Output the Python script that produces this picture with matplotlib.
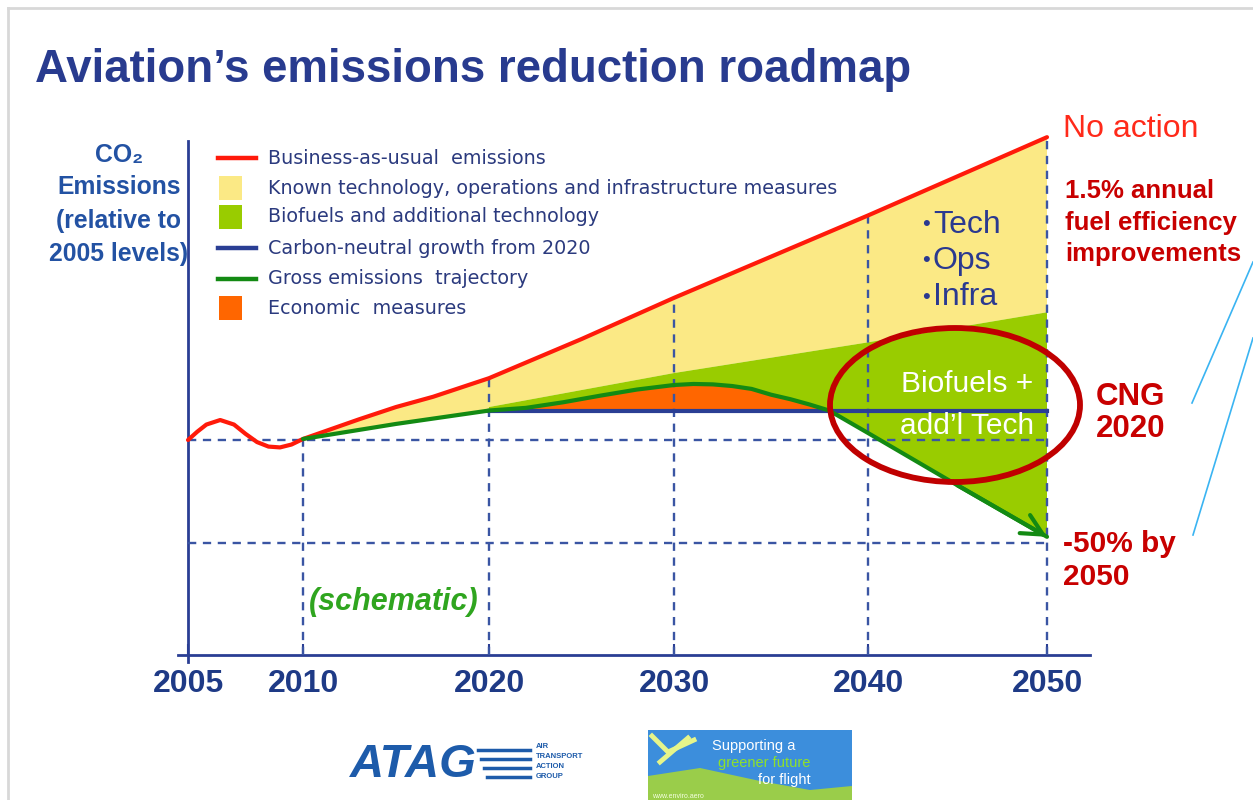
import numpy as np
import matplotlib
matplotlib.use("Agg")
import matplotlib.pyplot as plt
from matplotlib.lines import Line2D
from matplotlib.patches import Rectangle, Ellipse, Polygon
from matplotlib import font_manager

# ---------------- data (schematic, index 2005 = 100) ----------------
tick_years = [2005, 2010, 2020, 2030, 2040, 2050]
tick_labels = ["2005", "2010", "2020", "2030", "2040", "2050"]

bau_years = [2005, 2005.4, 2005.8, 2006.4, 2007, 2007.5, 2008, 2008.5, 2009, 2009.5,
             2010, 2013, 2015, 2017, 2020, 2025, 2030, 2035, 2040, 2045, 2050]
bau_values = [100, 104, 107.5, 109.7, 107.5, 103, 99, 96.8, 96.4, 97.8,
              100.5, 110, 116, 121, 130, 149, 169, 189, 209, 228, 247]

gross_years = [2010, 2015, 2020, 2022, 2024, 2026, 2028, 2030, 2031, 2032, 2033,
               2034, 2035, 2036, 2037, 2038, 2040, 2045, 2050]
gross_values = [100.5, 107.8, 114.3, 115.6, 118.3, 121.5, 124.5, 126.7, 127.2, 127.0,
                126.2, 124.8, 122.0, 119.8, 117.2, 114.3, 103.4, 78, 53]

known_tech_lower_years = [2020, 2030, 2040, 2050]     # top of biofuels wedge
known_tech_lower_values = [116, 132.5, 147.4, 162]

cng_years = [2020, 2050]
cng_level = 114.3
baseline_level = 100
target_level = 50

legend_labels = ["Business-as-usual  emissions",
                 "Known technology, operations and infrastructure measures",
                 "Biofuels and additional technology",
                 "Carbon-neutral growth from 2020",
                 "Gross emissions  trajectory",
                 "Economic  measures"]

# ---------------- style ----------------
RED = "#FF1A0A"
YELLOW = "#FBE985"
LGREEN = "#99CC00"
ORANGE = "#FF6600"
NAVY = "#2A3E94"
DGREEN = "#138A13"
DASH = "#3A55A3"
DARKRED = "#C80000"

W, H = 1253, 800
names = {f.name for f in font_manager.fontManager.ttflist}
NARROW = "Liberation Sans Narrow" if "Liberation Sans Narrow" in names else "Liberation Sans"

def fx(px):
    return px / W

def fy(py):
    return 1 - py / H

fig = plt.figure(figsize=(W / 100, H / 100), dpi=100)
fig.patch.set_facecolor("white")

# axes occupying pixel box x 170..1100, y 120..670
AX_L, AX_R, AX_T, AX_B = 170, 1100, 120, 670
ax = fig.add_axes([fx(AX_L), fy(AX_B), (AX_R - AX_L) / W, (AX_B - AX_T) / H])

# schematic (piecewise linear) time axis
YR = np.array([1990, 2005, 2010, 2020, 2030, 2040, 2050, 2100], dtype=float)
PX = np.array([188 - 15 * 23, 188, 303, 489, 674, 868, 1047, 1047 + 50 * 17.9])

def fwd(x):
    return np.interp(x, YR, PX)

def inv(p):
    return np.interp(p, PX, YR)

ax.set_xscale("function", functions=(fwd, inv))
ax.set_xlim(inv(AX_L), inv(AX_R))
PXU = 2.06  # px per index unit
ax.set_ylim(100 - (AX_B - 440) / PXU, 100 + (440 - AX_T) / PXU)

# fills
yel_x = bau_years[10:] + known_tech_lower_years[::-1] + gross_years[:3][::-1]
yel_y = bau_values[10:] + known_tech_lower_values[::-1] + gross_values[:3][::-1]
ax.fill(yel_x, yel_y, color=YELLOW, lw=0, zorder=1)

g_start = gross_years.index(2020)
grn_x = known_tech_lower_years + gross_years[g_start:][::-1]
grn_y = known_tech_lower_values + gross_values[g_start:][::-1]
ax.fill(grn_x, grn_y, color=LGREEN, lw=0, zorder=2)

gy = np.array(gross_years[g_start:], dtype=float)
gv = np.array(gross_values[g_start:], dtype=float)
ax.fill_between(gy, gv, cng_level, where=gv >= cng_level - 1e-9, interpolate=True,
                color=ORANGE, lw=0, zorder=3)

# dashed guide lines
dash_kw = dict(color=DASH, lw=1.7, linestyle=(0, (3.5, 2.8)), zorder=4)
ybot = 100 - (655 - 440) / PXU
for yr in tick_years[1:]:
    top = baseline_level if yr == 2010 else bau_values[bau_years.index(yr)]
    ax.plot([yr, yr], [ybot, top], **dash_kw)
for lvl in (baseline_level, target_level):
    ax.plot([tick_years[0], tick_years[-1]], [lvl, lvl], **dash_kw)

# lines
ax.plot(bau_years, bau_values, color=RED, lw=3.0, zorder=6, solid_capstyle="round")
ax.plot(cng_years, [cng_level, cng_level], color=NAVY, lw=3.0, zorder=7)
ax.plot(gross_years, gross_values, color=DGREEN, lw=3.0, zorder=8, solid_capstyle="round")
ax.annotate("", xy=(gross_years[-1], gross_values[-1]),
            xytext=(gross_years[-2], gross_values[-2]),
            arrowprops=dict(arrowstyle="->,head_length=1.5,head_width=0.75",
                            color=DGREEN, lw=3.0, shrinkA=0, shrinkB=0), zorder=9)

# axes styling
for s in ("top", "right"):
    ax.spines[s].set_visible(False)
ax.spines["left"].set_position(("data", 2005))
ax.spines["bottom"].set_position(("data", ybot))
ax.spines["left"].set_bounds(100 - (662 - 440) / PXU, 100 + (440 - 141) / PXU)
ax.spines["bottom"].set_bounds(inv(178), inv(1090))
for s in ("left", "bottom"):
    ax.spines[s].set_color(NAVY)
    ax.spines[s].set_linewidth(2.0)
ax.set_yticks([])
ax.set_xticks(tick_years)
ax.set_xticklabels(tick_labels, fontsize=23, fontweight="bold", color="#1E3A86",
                   family=["Liberation Sans"])
ax.tick_params(axis="x", direction="in", length=8, width=1.5, color=NAVY, pad=10)
ax.get_xticklabels()[0].set_x(2005.2)
ax.set_facecolor("none")

# title
title = fig.text(fx(35), fy(70), "Aviation’s emissions reduction roadmap",
                 fontsize=34, fontweight="bold", color="#283B8F", family=[NARROW, "DejaVu Sans"],
                 ha="left", va="center")
r = fig.canvas.get_renderer()
tw = title.get_window_extent(r).width
title.set_fontsize(34 * 877 / tw)

# y label
ylab_lines = ["CO₂", "Emissions", "(relative to", "2005 levels)"]
for t, y in zip(ylab_lines, [155, 187, 221, 254]):
    fig.text(fx(119), fy(y), t, fontsize=17.8, fontweight="bold", color="#2352A3",
             family=["Liberation Sans", "DejaVu Sans"], ha="center", va="center")

# legend (manual)
rows = [158, 188, 217, 248, 279, 308]
kinds = [("line", RED), ("box", YELLOW), ("box", LGREEN), ("line", NAVY),
         ("line", DGREEN), ("box", ORANGE)]
for (kind, col), y, lab in zip(kinds, rows, legend_labels):
    if kind == "line":
        fig.add_artist(Line2D([fx(218), fx(256)], [fy(y), fy(y)], color=col, lw=3.2))
    else:
        fig.add_artist(Rectangle((fx(219), fy(y + 11.5)), 23 / W, 23 / H, color=col, lw=0))
    fig.text(fx(268), fy(y), lab, fontsize=13.8, color="#2B3A7E",
             family=["DejaVu Sans"], ha="left", va="center")

# annotations
fig.text(fx(1063), fy(129), "No action", fontsize=23, color="#FF2A1A",
         family=["Liberation Sans"], ha="left", va="center")
for t, y in zip(["1.5% annual", "fuel efficiency", "improvements"], [191, 223, 254]):
    fig.text(fx(1065), fy(y), t, fontsize=18.5, fontweight="bold", color=DARKRED,
             family=["Liberation Sans"], ha="left", va="center")
for t, y in zip(["CNG", "2020"], [397, 429]):
    fig.text(fx(1096), fy(y), t, fontsize=22.5, fontweight="bold", color=DARKRED,
             family=["Liberation Sans"], ha="left", va="center")
for t, y in zip(["-50% by", "2050"], [544, 577]):
    fig.text(fx(1063), fy(y), t, fontsize=21.5, fontweight="bold", color=DARKRED,
             family=["Liberation Sans"], ha="left", va="center")
for t, y in zip(["Tech", "Ops", "Infra"], [225, 261, 297]):
    fig.text(fx(922), fy(y), "•", fontsize=16, color="#2A3990",
             family=["Liberation Sans", "DejaVu Sans"], ha="left", va="center")
    fig.text(fx(933), fy(y), t, fontsize=23, color="#2A3990",
             family=["Liberation Sans", "DejaVu Sans"], ha="left", va="center")
for t, y in zip(["Biofuels +", "add’l Tech"], [384, 426]):
    fig.text(fx(967), fy(y), t, fontsize=21.5, color="white",
             family=["Liberation Sans"], ha="center", va="center", zorder=20)
fig.text(fx(394), fy(602), "(schematic)", fontsize=22, fontweight="bold", style="italic",
         color="#2FA51F", family=["Liberation Sans"], ha="center", va="center")

# ellipse highlight
fig.add_artist(Ellipse((fx(955), fy(405)), 250 / W, 154 / H, fill=False,
                       edgecolor="#C00000", lw=4.2, zorder=30))

# light blue pointer lines
for (x0, y0, x1, y1) in [(1192, 403, 1253, 262), (1193, 535, 1253, 338)]:
    fig.add_artist(Line2D([fx(x0), fx(x1)], [fy(y0), fy(y1)], color="#3AB4F2", lw=1.2))

# slide border
fig.add_artist(Line2D([fx(8), fx(1253)], [fy(8), fy(8)], color="#D8D8D8", lw=2))
fig.add_artist(Line2D([fx(8), fx(8)], [fy(8), fy(800)], color="#D8D8D8", lw=2))

# ---- logos (approximate) ----
fig.text(fx(350), fy(765), "ATAG", fontsize=34, fontweight="bold", style="italic",
         color="#1D5BAA", family=["Liberation Sans"], ha="left", va="center")
for k in range(4):
    fig.add_artist(Line2D([fx(478 + k * 3), fx(530)], [fy(750 + k * 9), fy(750 + k * 9)],
                          color="#1D5BAA", lw=2.5))
for t, y in zip(["AIR", "TRANSPORT", "ACTION", "GROUP"], [746, 756, 766, 776]):
    fig.text(fx(536), fy(y), t, fontsize=5.5, fontweight="bold", color="#1D5BAA",
             family=["Liberation Sans"], ha="left", va="center")

fig.add_artist(Rectangle((fx(648), fy(800)), 204 / W, 70 / H, color="#3C8EDC", lw=0))
wave = Polygon([(fx(648), fy(776)), (fx(700), fy(768)), (fx(760), fy(781)),
                (fx(810), fy(790)), (fx(852), fy(786)), (fx(852), fy(800)), (fx(648), fy(800))],
               closed=True, color="#9ACD4A", lw=0)
fig.add_artist(wave)
fig.add_artist(Line2D([fx(652), fx(668), fx(694)], [fy(736), fy(752), fy(740)],
                      color="#E6F58A", lw=3.5))
fig.add_artist(Line2D([fx(660), fx(688)], [fy(762), fy(738)], color="#E6F58A", lw=3.5))
fig.text(fx(712), fy(746), "Supporting a", fontsize=10.5, color="white",
         family=["Liberation Sans"], ha="left", va="center")
fig.text(fx(718), fy(763), "greener future", fontsize=10.5, color="#8EE02C",
         family=["Liberation Sans"], ha="left", va="center")
fig.text(fx(758), fy(780), "for flight", fontsize=10.5, color="white",
         family=["Liberation Sans"], ha="left", va="center")
fig.text(fx(652), fy(796), "www.enviro.aero", fontsize=5, color="#F4FFE0",
         family=["Liberation Sans"], ha="left", va="center")

fig.savefig("out.png", dpi=100, facecolor="white")
